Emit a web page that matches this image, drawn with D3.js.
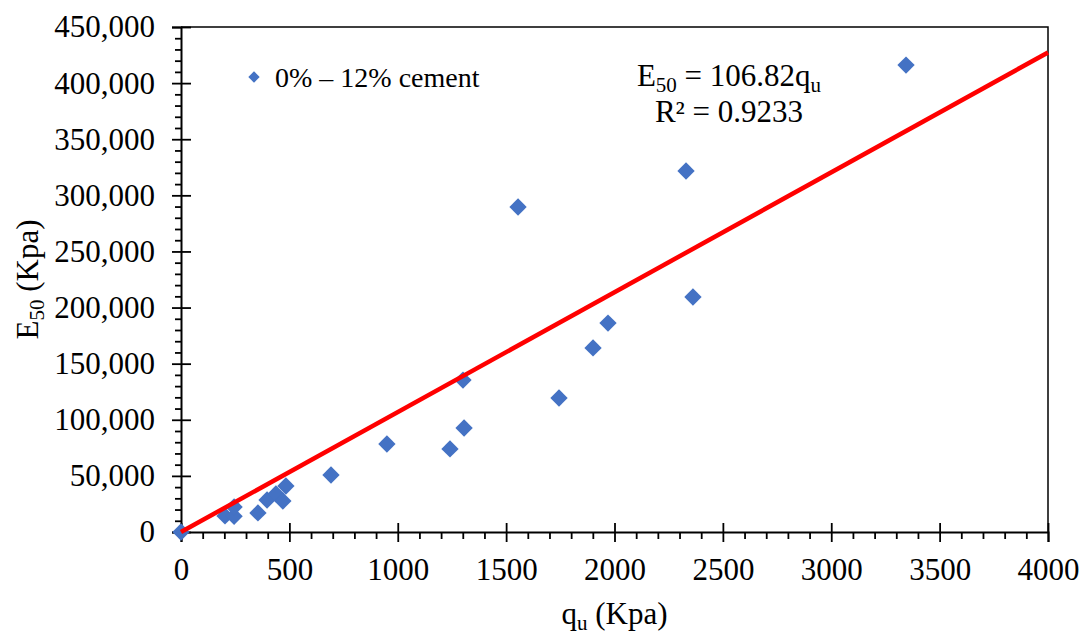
<!DOCTYPE html>
<html>
<head>
<meta charset="utf-8">
<script src="https://cdn.jsdelivr.net/npm/d3@7"></script>
<style>
  body { margin: 0; background: #fff; }
  svg text { font-family: 'Liberation Serif', serif; fill: #000; }
</style>
</head>
<body>
<div id="wrapper"></div>
<script>
// data
const quValues = [0, 203, 245, 245, 355, 397, 438, 470, 484, 692, 950, 1241, 1306, 1301, 1555, 1744, 1901, 1970, 2330, 2362, 3345]
const e50Values = [0, 14300, 14000, 22300, 17000, 28500, 33900, 27600, 41000, 50800, 78400, 74000, 92700, 135400, 289600, 119400, 164000, 186200, 321700, 209400, 416100]
const seriesName = '0% \u2013 12% cement'
const slope = 106.82
const rSquared = '0.9233'
const xTicks = [0, 500, 1000, 1500, 2000, 2500, 3000, 3500, 4000]
const yTicks = [0, 50000, 100000, 150000, 200000, 250000, 300000, 350000, 400000, 450000]

const dataset = quValues.map((q, i) => ({ q: q, e: e50Values[i] }))

//create dimensions
let dimensions = {
  width: 1088,
  height: 635,
  margin: { top: 27, right: 40, bottom: 103, left: 181 }
}
dimensions.boundedWidth = dimensions.width - dimensions.margin.left - dimensions.margin.right
dimensions.boundedHeight = dimensions.height - dimensions.margin.top - dimensions.margin.bottom

//draw canvas
const wrapper = d3.select('#wrapper')
  .append('svg')
    .attr('width', dimensions.width)
    .attr('height', dimensions.height)

const bounds = wrapper.append('g')
  .attr('transform', `translate(${dimensions.margin.left}, ${dimensions.margin.top})`)

//scales
const xScale = d3.scaleLinear()
  .domain([0, 4000])
  .range([0, dimensions.boundedWidth])

const yScale = d3.scaleLinear()
  .domain([0, 450000])
  .range([dimensions.boundedHeight, 0])

const fontSize = 31
const serif = "'Liberation Serif'"

//frame (top + right)
bounds.append('path')
  .attr('d', `M0,0 H${dimensions.boundedWidth} V${dimensions.boundedHeight}`)
  .attr('fill', 'none')
  .attr('stroke', '#000')
  .attr('stroke-width', 1.5)

//minor ticks
const xMinor = d3.range(0, 4001, 100).filter(v => v % 500 !== 0)
const yMinor = d3.range(0, 450001, 10000).filter(v => v % 50000 !== 0)

const xMinorAxis = bounds.append('g')
  .attr('transform', `translate(0, ${dimensions.boundedHeight})`)
  .call(d3.axisBottom(xScale).tickValues(xMinor).tickSize(7).tickFormat(''))

const yMinorAxis = bounds.append('g')
  .call(d3.axisLeft(yScale).tickValues(yMinor).tickSize(6).tickFormat(''))

//major ticks, crossing the axis
const xInner = bounds.append('g')
  .attr('transform', `translate(0, ${dimensions.boundedHeight})`)
  .call(d3.axisTop(xScale).tickValues(xTicks).tickSize(9).tickFormat(''))

const yInner = bounds.append('g')
  .call(d3.axisRight(yScale).tickValues(yTicks).tickSize(10).tickFormat(''))

const xAxis = bounds.append('g')
  .attr('transform', `translate(0, ${dimensions.boundedHeight})`)
  .call(d3.axisBottom(xScale).tickValues(xTicks).tickSize(10).tickPadding(16).tickFormat(d3.format('d')))

const yAxis = bounds.append('g')
  .call(d3.axisLeft(yScale).tickValues(yTicks).tickSize(9).tickPadding(17).tickFormat(d3.format(',')))

bounds.selectAll('.domain').attr('stroke', '#000').attr('stroke-width', 2)
bounds.selectAll('.tick line').attr('stroke', '#000').attr('stroke-width', 1.8)
xMinorAxis.select('.domain').remove()
yMinorAxis.select('.domain').remove()
xInner.select('.domain').remove()
yInner.select('.domain').remove()
bounds.selectAll('.tick text')
  .style('font-family', serif)
  .attr('font-size', fontSize)
  .attr('fill', '#000')

//points
const diamond = d3.symbol().type(d3.symbolSquare).size(150)

bounds.append('g')
  .selectAll('path')
  .data(dataset)
  .join('path')
    .attr('d', diamond)
    .attr('transform', d => `translate(${xScale(d.q)}, ${yScale(d.e)}) rotate(45)`)
    .attr('fill', '#4472C4')

//trendline
bounds.append('line')
  .attr('x1', xScale(0))
  .attr('y1', yScale(0))
  .attr('x2', xScale(4000))
  .attr('y2', yScale(slope * 4000))
  .attr('stroke', '#FF0000')
  .attr('stroke-width', 4.5)

//legend
const legend = wrapper.append('g')
  .attr('transform', 'translate(254, 77)')

legend.append('path')
  .attr('d', d3.symbol().type(d3.symbolSquare).size(64))
  .attr('transform', 'rotate(45)')
  .attr('fill', '#4472C4')

legend.append('text')
  .attr('x', 21)
  .attr('y', 10)
  .attr('font-size', 28)
  .style('font-family', serif)
  .text(seriesName)

//equation
const eq = wrapper.append('text')
  .attr('x', 729)
  .attr('y', 86)
  .attr('text-anchor', 'middle')
  .attr('font-size', fontSize)
  .style('font-family', serif)
eq.append('tspan').text('E')
eq.append('tspan').attr('font-size', 21).attr('dy', 6).text('50')
eq.append('tspan').attr('dy', -6).text(` = ${slope}q`)
eq.append('tspan').attr('font-size', 21).attr('dy', 6).text('u')

wrapper.append('text')
  .attr('x', 729)
  .attr('y', 122)
  .attr('text-anchor', 'middle')
  .attr('font-size', fontSize)
  .style('font-family', serif)
  .text(`R\u00B2 = ${rSquared}`)

//axis titles
const xTitle = wrapper.append('text')
  .attr('x', dimensions.margin.left + dimensions.boundedWidth / 2)
  .attr('y', 624)
  .attr('text-anchor', 'middle')
  .attr('font-size', fontSize)
  .style('font-family', serif)
xTitle.append('tspan').text('q')
xTitle.append('tspan').attr('font-size', 21).attr('dy', 6).text('u')
xTitle.append('tspan').attr('dy', -6).text(' (Kpa)')

const yTitle = wrapper.append('text')
  .attr('transform', `translate(38, ${dimensions.margin.top + dimensions.boundedHeight / 2}) rotate(-90)`)
  .attr('text-anchor', 'middle')
  .attr('font-size', fontSize)
  .style('font-family', serif)
yTitle.append('tspan').text('E')
yTitle.append('tspan').attr('font-size', 21).attr('dy', 6).text('50')
yTitle.append('tspan').attr('dy', -6).text(' (Kpa)')
</script>
</body>
</html>
